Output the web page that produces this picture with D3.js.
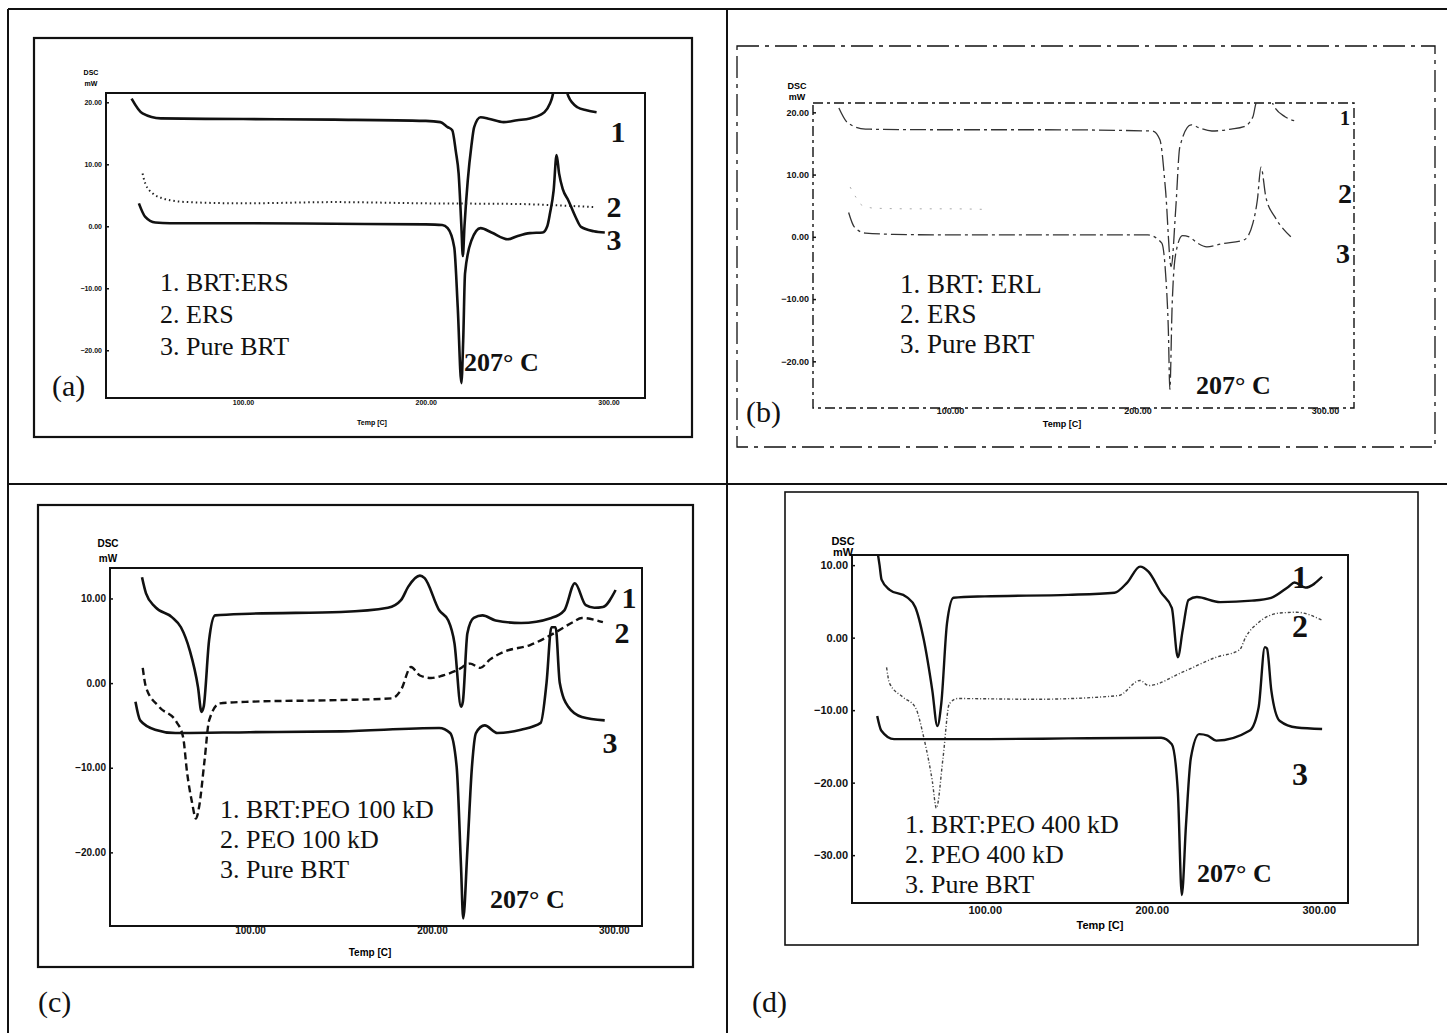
<!DOCTYPE html>
<html>
<head>
<meta charset="utf-8">
<script src="https://cdn.jsdelivr.net/npm/d3@7"></script>
<style>
  html, body { margin: 0; padding: 0; background: #fff; }
  svg { display: block; }
</style>
</head>
<body>
<div id="chart"></div>
<script>
// ---- data (temperature in C, heat flow in mW) ----
const tempTicks = [100, 200, 300];
const dscTicksAB = [20, 10, 0, -10, -20];
const dscTicksC = [10, 0, -10, -20];
const dscTicksD = [10, 0, -10, -20, -30];
const curveNumbers = ['1', '2', '3'];
const peakLabel = '207\u00B0 C';

const legendA = ['1. BRT:ERS', '2. ERS', '3. Pure BRT'];
const legendB = ['1. BRT: ERL', '2. ERS', '3. Pure BRT'];
const legendC = ['1. BRT:PEO 100 kD', '2. PEO 100 kD', '3. Pure BRT'];
const legendD = ['1. BRT:PEO 400 kD', '2. PEO 400 kD', '3. Pure BRT'];

// panel (a)
const a1 = [[39,20.6],[45,18.2],[55,17.4],[100,17.3],[150,17.2],[200,17.0],[208,16.8],[212,16.0],[214.5,15.5],[216.5,12],[218,8.5],[219.5,0],[220.3,-4.8],[221.2,0],[223,7.4],[225,13],[226.5,16],[230,17.6],[235,17.3],[242.6,16.8],[250,17.1],[257,17.4],[263,18],[265,18.4],[268,19.8],[269,20.6],[271,23],[274,24],[277,22],[278,21],[283,19.2],[288,18.7],[293.5,18.4]];
const a2 = [[45,8.5],[46.5,6.9],[51,5.2],[56,4.5],[60,4.2],[70,3.9],[100,3.7],[150,3.9],[200,3.7],[250,3.6],[270,3.4],[292,3.1]];
const a3 = [[43,3.7],[46.5,1.5],[52,0.6],[60,0.5],[100,0.5],[150,0.4],[200,0.3],[209,0.2],[212,-0.3],[215.6,-3.4],[217.5,-13],[219.5,-25.3],[220.5,-18.4],[221.5,-7.6],[225,-2.3],[230,-0.3],[236,-1],[245,-2.1],[250,-1.6],[257,-1.1],[264,-1],[266.5,0],[268,2.1],[270,5.8],[271.6,11.5],[273,8.5],[275,6],[278,4.2],[282,1.5],[285,-0.1],[292,-0.8],[298,-1]];

// panel (b)
const b1 = [[40.8,20.7],[45.6,18.3],[55,17.3],[100,17.2],[150,17.2],[208,17.0],[212,15.6],[215,7.5],[218,-4.8],[220.5,4.8],[222.6,14.4],[228.6,18],[233,17.5],[239.7,17],[250,17.3],[256.8,17.7],[261.6,19.3],[263,21.2],[266,23.5],[270,23],[272.5,21.2],[278.7,19.3],[284.5,18.6]];
const b2 = [[46.8,8],[50,6.3],[53,5.1],[60,4.6],[80,4.5],[100,4.5],[120,4.4]];
const b3 = [[46,3.9],[49,1.6],[55,0.6],[70,0.4],[100,0.3],[150,0.3],[205.6,0.3],[213,-1],[215,-5.8],[216.5,-15],[217.3,-24.5],[218.5,-11.2],[220.5,-2.6],[224,0.2],[227.6,0],[232,-1],[237,-1.6],[245,-1.1],[256.8,-0.5],[261.6,2.2],[264,6],[265.9,11.2],[268.5,6.4],[273.3,3.2],[278,1.2],[281.8,0]];

// panel (c)
const c1 = [[40.6,12.5],[42.8,10.6],[47.8,9],[57,7.8],[62,6.6],[66.8,3.9],[71.4,-0.5],[73.3,-3.4],[74.5,-2.8],[77.5,5.1],[80.8,8],[100,8.2],[150,8.4],[175.8,8.9],[183,9.8],[187,11.4],[193.4,12.7],[196,12.4],[204,8.6],[209,7.4],[212.4,4.7],[216,-2.8],[217,-2.2],[219.5,5.9],[223,7.7],[227.8,8],[235,7.4],[249,7.1],[265.7,7.7],[272.8,8.6],[278.6,11.8],[284.6,9.2],[289.3,8.9],[294,9],[301,11]];
const c2 = [[41,1.8],[42.8,-0.5],[50,-2.8],[59.6,-4.6],[63.2,-6.4],[65.4,-10.6],[68,-14],[70.3,-16],[72,-14.6],[75,-9.1],[77.5,-4.4],[83.4,-2.4],[100,-2.2],[150,-2.0],[178,-1.8],[183,-0.8],[188.5,1.9],[193.4,0.9],[199.5,0.6],[206,0.9],[213.7,1.5],[221,2.3],[226.6,1.8],[232,2.8],[239.6,3.7],[254,4.5],[268,6],[277.5,7.2],[282.4,7.7],[294,7.2]];
const c3 = [[37,-2.2],[39.6,-4.4],[47.8,-5.5],[59,-5.9],[100,-5.8],[150,-5.7],[204,-5.3],[210,-5.9],[213.6,-9.9],[216,-21.7],[217.2,-27.8],[219.5,-19.7],[222,-9.9],[224.2,-5.9],[229,-5],[236,-5.9],[249,-5.5],[259.8,-4.7],[263,0],[265.7,6.6],[268,6.6],[270.3,0],[275,-2.8],[282.4,-4],[295,-4.4]];

// panel (d)
const d1 = [[35,13],[37,10],[38.2,8],[43,6.6],[53.3,5.6],[58.4,4.2],[63.5,-0.3],[68.6,-7.3],[71.6,-12.2],[74,-9],[77.4,2],[81.3,5.5],[100,5.7],[150,5.9],[177.7,6.2],[185.3,7.6],[193,9.8],[198,9.1],[205.6,6.2],[212,4.1],[215.6,-2.7],[218.5,1],[222,5.2],[227,5.6],[241,4.9],[260,5.1],[271.5,5.5],[281.7,7],[285.5,7.6],[292,6.9],[302,8.4]];
const d2 = [[41.2,-4.1],[43,-6.3],[51,-8.2],[58.4,-9.6],[63.5,-13.8],[68.6,-19.8],[71,-23.5],[75,-16.6],[78.8,-9.1],[83.8,-8.4],[129.3,-8.5],[180,-8],[193,-5.9],[198,-6.6],[218,-4.8],[238.6,-2.7],[252.5,-1.7],[256.3,0.1],[264,2.1],[276.7,3.4],[286.8,3.5],[302,2.4]];
const d3c = [[35.6,-10.8],[38,-12.8],[45.7,-14],[100,-14],[150,-13.9],[205.6,-13.8],[212,-14.7],[215.6,-21.2],[218,-35.5],[220.5,-25.8],[223.4,-16.6],[228.4,-13.3],[233.5,-13.5],[238.6,-14.2],[258.7,-12.8],[264,-9.6],[267.7,-1.3],[269,-1.5],[271.6,-7.3],[276.7,-11.5],[286.8,-12.4],[302,-12.6]];

// ---- layout ----
const W = 1447, H = 1033;
const solid = { stroke: '#111', width: 2.6, dash: null };

const panels = [
  {
    id: 'a', letter: '(a)', box: [34, 38, 692, 437], boxDash: null, boxWidth: 2.2,
    frame: { x0: 106, x1: 645, y0: 93, y1: 398 }, frameDash: null, frameWidth: 2,
    xDomain: [25, 320], yDomain: [21.5, -27.7], yTicks: dscTicksAB,
    tickFont: 7, xPad: 2, dscPos: [91, 75, 86], tempPos: [372, 425],
    curves: [a1, a2, a3],
    styles: [solid, { stroke: '#222', width: 2, dash: '1.5,3' }, solid],
    legend: legendA, legendPos: [160, 291, 32], legendSize: 26,
    peakPos: [464, 371], numPos: [[618, 142], [614, 217], [614, 250]], numSizes: [30, 30, 30],
    letterPos: [52, 396]
  },
  {
    id: 'b', letter: '(b)', box: [737, 46, 1435, 447], boxDash: '22,6,4,6', boxWidth: 1.3,
    frame: { x0: 813, x1: 1354, y0: 103, y1: 408 }, frameDash: '10,4,3,4', frameWidth: 1.4,
    xDomain: [27, 315.5], yDomain: [21.5, -27.5], yTicks: dscTicksAB,
    tickFont: 9, xPad: 0, dscPos: [797, 89, 100], tempPos: [1062, 427],
    curves: [b1, b2, b3],
    styles: [
      { stroke: '#333', width: 1.3, dash: '16,4,3,4' },
      { stroke: '#aaa', width: 1, dash: '2,8' },
      { stroke: '#333', width: 1.3, dash: '16,4,3,4' }
    ],
    legend: legendB, legendPos: [900, 293, 30], legendSize: 27,
    peakPos: [1196, 394], numPos: [[1345, 125], [1345, 203], [1343, 263]], numSizes: [20, 28, 28],
    letterPos: [746, 422]
  },
  {
    id: 'c', letter: '(c)', box: [38, 505, 693, 967], boxDash: null, boxWidth: 2.2,
    frame: { x0: 110, x1: 642, y0: 568, y1: 926 }, frameDash: null, frameWidth: 2,
    xDomain: [23, 315.5], yDomain: [13.6, -28.7], yTicks: dscTicksC,
    tickFont: 10, xPad: 1, dscPos: [108, 547, 562], tempPos: [370, 956],
    curves: [c1, c2, c3],
    styles: [solid, { stroke: '#111', width: 2.4, dash: '7,4' }, solid],
    legend: legendC, legendPos: [220, 818, 30], legendSize: 26,
    peakPos: [490, 908], numPos: [[629, 608], [622, 643], [610, 753]], numSizes: [30, 30, 30],
    letterPos: [38, 1012]
  },
  {
    id: 'd', letter: '(d)', box: [785, 492, 1418, 945], boxDash: null, boxWidth: 1.6,
    frame: { x0: 852, x1: 1348, y0: 555, y1: 903 }, frameDash: null, frameWidth: 2,
    xDomain: [20.5, 317.5], yDomain: [11.4, -36.6], yTicks: dscTicksD,
    tickFont: 11, xPad: 3, dscPos: [843, 545, 556], tempPos: [1100, 929],
    curves: [d1, d2, d3c],
    styles: [
      { stroke: '#111', width: 2.4, dash: null },
      { stroke: '#444', width: 1.4, dash: '3,2,1,2' },
      { stroke: '#111', width: 2.4, dash: null }
    ],
    legend: legendD, legendPos: [905, 833, 30], legendSize: 26,
    peakPos: [1197, 882], numPos: [[1300, 588], [1300, 637], [1300, 785]], numSizes: [32, 32, 32],
    letterPos: [752, 1012]
  }
];

const svg = d3.select('#chart').append('svg')
  .attr('width', W).attr('height', H)
  .attr('viewBox', `0 0 ${W} ${H}`);

const defs = svg.append('defs');

// table grid that the four figures sit in
const grid = svg.append('g').attr('class', 'grid')
  .attr('stroke', '#111').attr('stroke-width', 2);
grid.append('line').attr('x1', 8).attr('y1', 9).attr('x2', W).attr('y2', 9);
grid.append('line').attr('x1', 8).attr('y1', 9).attr('x2', 8).attr('y2', H);
grid.append('line').attr('x1', 727).attr('y1', 9).attr('x2', 727).attr('y2', H);
grid.append('line').attr('x1', 8).attr('y1', 484).attr('x2', W).attr('y2', 484);

const serif = '"Liberation Serif", "Times New Roman", serif';
const sans = '"Liberation Sans", Arial, sans-serif';

panels.forEach(p => {
  const g = svg.append('g').attr('class', `panel panel-${p.id}`);
  const f = p.frame;

  // outer picture box
  g.append('rect')
    .attr('x', p.box[0]).attr('y', p.box[1])
    .attr('width', p.box[2] - p.box[0]).attr('height', p.box[3] - p.box[1])
    .attr('fill', 'none').attr('stroke', '#111')
    .attr('stroke-width', p.boxWidth)
    .attr('stroke-dasharray', p.boxDash);

  const x = d3.scaleLinear().domain(p.xDomain).range([f.x0, f.x1]);
  const y = d3.scaleLinear().domain(p.yDomain).range([f.y0, f.y1]);

  defs.append('clipPath').attr('id', `clip-${p.id}`)
    .append('rect')
    .attr('x', f.x0).attr('y', f.y0)
    .attr('width', f.x1 - f.x0).attr('height', f.y1 - f.y0);

  // y axis
  const yAxis = g.append('g')
    .attr('transform', `translate(${f.x0},0)`)
    .call(d3.axisLeft(y).tickValues(p.yTicks).tickFormat(d3.format('.2f'))
      .tickSizeInner(-3).tickSizeOuter(0).tickPadding(4));
  yAxis.select('.domain').remove();
  yAxis.selectAll('.tick line').attr('stroke', '#111').attr('stroke-width', 1.5);
  yAxis.selectAll('.tick text')
    .attr('font-family', sans).attr('font-size', p.tickFont)
    .attr('font-weight', 'bold').attr('fill', '#111');

  // x axis
  const xAxis = g.append('g')
    .attr('transform', `translate(0,${f.y1})`)
    .call(d3.axisBottom(x).tickValues(tempTicks).tickFormat(d3.format('.2f'))
      .tickSize(0).tickPadding(p.xPad));
  xAxis.select('.domain').remove();
  xAxis.selectAll('.tick text')
    .attr('font-family', sans).attr('font-size', p.tickFont)
    .attr('font-weight', 'bold').attr('fill', '#111');

  // plot frame
  g.append('rect')
    .attr('x', f.x0).attr('y', f.y0)
    .attr('width', f.x1 - f.x0).attr('height', f.y1 - f.y0)
    .attr('fill', 'none').attr('stroke', '#111')
    .attr('stroke-width', p.frameWidth)
    .attr('stroke-dasharray', p.frameDash);

  // axis titles
  g.append('text').attr('x', p.dscPos[0]).attr('y', p.dscPos[1])
    .attr('text-anchor', 'middle').attr('font-family', sans)
    .attr('font-size', p.tickFont).attr('font-weight', 'bold').text('DSC');
  g.append('text').attr('x', p.dscPos[0]).attr('y', p.dscPos[2])
    .attr('text-anchor', 'middle').attr('font-family', sans)
    .attr('font-size', p.tickFont).attr('font-weight', 'bold').text('mW');
  g.append('text').attr('x', p.tempPos[0]).attr('y', p.tempPos[1])
    .attr('text-anchor', 'middle').attr('font-family', sans)
    .attr('font-size', p.tickFont).attr('font-weight', 'bold').text('Temp [C]');

  // curves
  const line = d3.line()
    .x(d => x(d[0]))
    .y(d => y(d[1]))
    .curve(d3.curveMonotoneX);

  const plot = g.append('g').attr('clip-path', `url(#clip-${p.id})`);
  p.curves.forEach((data, i) => {
    const s = p.styles[i];
    plot.append('path')
      .datum(data)
      .attr('d', line)
      .attr('fill', 'none')
      .attr('stroke', s.stroke)
      .attr('stroke-width', s.width)
      .attr('stroke-linejoin', 'round')
      .attr('stroke-dasharray', s.dash);
  });

  // curve numbers
  curveNumbers.forEach((n, i) => {
    g.append('text')
      .attr('x', p.numPos[i][0]).attr('y', p.numPos[i][1])
      .attr('text-anchor', 'middle')
      .attr('font-family', serif).attr('font-weight', 'bold')
      .attr('font-size', p.numSizes[i]).attr('fill', '#111')
      .text(n);
  });

  // legend
  p.legend.forEach((t, i) => {
    g.append('text')
      .attr('x', p.legendPos[0]).attr('y', p.legendPos[1] + i * p.legendPos[2])
      .attr('font-family', serif).attr('font-size', p.legendSize)
      .attr('fill', '#111')
      .text(t);
  });

  // melting point note
  g.append('text')
    .attr('x', p.peakPos[0]).attr('y', p.peakPos[1])
    .attr('font-family', serif).attr('font-size', 26)
    .attr('font-weight', 'bold').attr('fill', '#111')
    .text(peakLabel);

  // panel letter
  g.append('text')
    .attr('x', p.letterPos[0]).attr('y', p.letterPos[1])
    .attr('font-family', serif).attr('font-size', 30)
    .attr('fill', '#111')
    .text(p.letter);
});
</script>
</body>
</html>
